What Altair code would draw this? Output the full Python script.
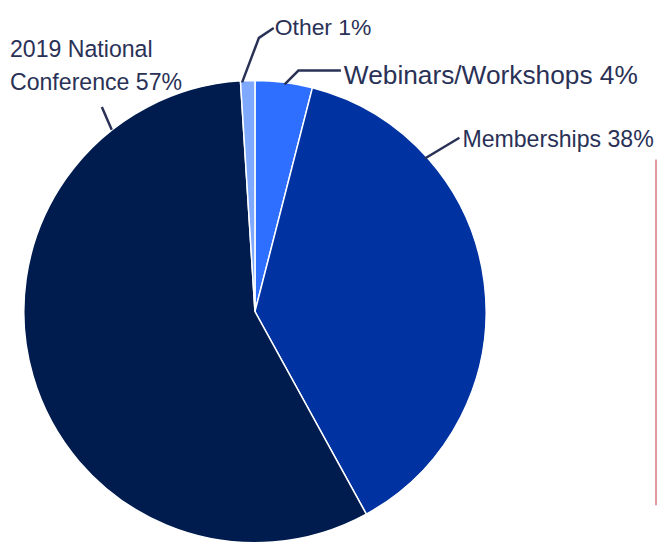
import altair as alt
import pandas as pd

# ---- data ----
categories = ["Webinars/Workshops", "Memberships", "2019 National Conference", "Other"]
values = [4, 38, 57, 1]
slice_order = [1, 2, 3, 4]
colors = ["#2E6FFF", "#0033A1", "#001C4F", "#7FA8FF"]

label_lines = ["Other 1%", "Webinars/Workshops 4%", "Memberships 38%", "2019 National", "Conference 57%"]

pie_df = pd.DataFrame({"category": categories, "value": values, "order": slice_order})

# annotation layout (pixel positions in chart space)
lab_df = pd.DataFrame({
    "text": label_lines,
    "px": [270, 340, 460, 2, 2],
    "py": [24, 74, 137, 46, 80],
    "fs": [23.2, 26.6, 23.4, 23.4, 23.4],
})

lead_df = pd.DataFrame({
    "grp": ["o", "o", "o", "w", "w", "w", "m", "m", "c", "c"],
    "idx": [0, 1, 2, 0, 1, 2, 0, 1, 0, 1],
    "px": [237, 254, 269, 280, 294, 337, 422, 457, 95, 105],
    "py": [72, 27, 17, 74, 60, 60, 149, 128, 97, 120],
})

TEXT_COLOR = "#2A3156"
FONT = "Liberation Sans"

pie = alt.Chart(pie_df).mark_arc(outerRadius=234, stroke="white", strokeWidth=1.5).encode(
    theta=alt.Theta("value:Q", stack=True),
    order=alt.Order("order:Q"),
    color=alt.Color("category:N", scale=alt.Scale(domain=categories, range=colors), legend=None),
    x=alt.value(250),
    y=alt.value(304),
)

leads = alt.Chart(lead_df).mark_line(color=TEXT_COLOR, strokeWidth=2.5).encode(
    x=alt.X("px:Q", scale=None),
    y=alt.Y("py:Q", scale=None),
    detail="grp:N",
    order="idx:Q",
)

labels = alt.Chart(lab_df).mark_text(align="left", baseline="alphabetic", font=FONT, color=TEXT_COLOR).encode(
    x=alt.X("px:Q", scale=None),
    y=alt.Y("py:Q", scale=None),
    text="text:N",
    size=alt.Size("fs:Q", scale=None, legend=None),
)

red_rule = alt.Chart(pd.DataFrame({"k": [0]})).mark_rule(color="#D9777F", strokeWidth=1.5).encode(
    x=alt.value(656), y=alt.value(150), y2=alt.value(500)
)

chart = alt.layer(pie, leads, labels, red_rule).properties(
    width=657, height=534, padding=0, autosize=alt.AutoSizeParams(type="none")
).configure_view(stroke=None)

chart.save("out.html", embed_options={"renderer": "svg", "actions": False})
